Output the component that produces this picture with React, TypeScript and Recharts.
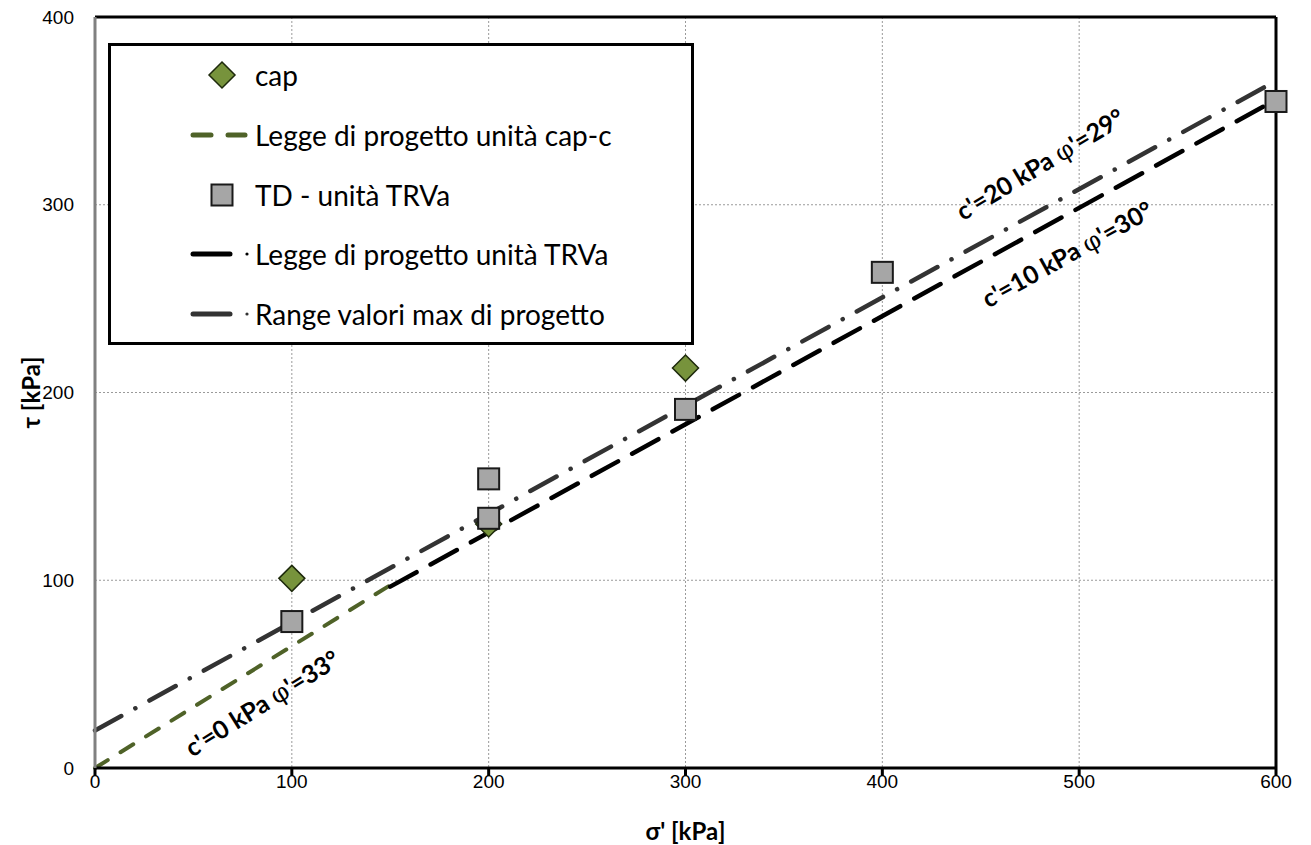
import React from "react";
import {
  ComposedChart,
  Line,
  Scatter,
  XAxis,
  YAxis,
  CartesianGrid,
  ReferenceLine,
  Label,
} from "recharts";

// measured points (sigma', tau) in kPa
const capPoints = [
  { x: 100, y: 101 },
  { x: 200, y: 130 },
  { x: 300, y: 213 },
];

const tdPoints = [
  { x: 100, y: 78 },
  { x: 200, y: 154 },
  { x: 200, y: 133 },
  { x: 300, y: 191 },
  { x: 400, y: 264 },
  { x: 600, y: 355 },
];

// design envelopes
const capLaw = [
  { x: 0, y: 0 },
  { x: 150, y: 97.4 },
];

const trvaLaw = [
  { x: 150, y: 96.6 },
  { x: 600, y: 356 },
];

const rangeMax = [
  { x: 0, y: 20 },
  { x: 600, y: 366 },
];

const xTicks = [0, 100, 200, 300, 400, 500, 600];
const yTicks = [0, 100, 200, 300, 400];

const W = 1311;
const H = 845;

const GREEN = "#77933C";
const GREEN_LINE = "#4F6228";

const textFont = "Lato, 'Open Sans', sans-serif";
const tickFont = "'Liberation Sans', Arial, sans-serif";

const Diamond = (props: any) => {
  const { cx, cy } = props;
  const r = 13;
  return (
    <polygon
      points={`${cx},${cy - r} ${cx + r},${cy} ${cx},${cy + r} ${cx - r},${cy}`}
      fill={GREEN}
      stroke="#1e2a0c"
      strokeWidth={1.5}
    />
  );
};

const Square = (props: any) => {
  const { cx, cy } = props;
  const s = 21;
  return (
    <rect
      x={cx - s / 2}
      y={cy - s / 2}
      width={s}
      height={s}
      fill="#A6A6A6"
      stroke="#1a1a1a"
      strokeWidth={2}
    />
  );
};

const XTick = (props: any) => {
  const { x, y, payload } = props;
  return (
    <text x={x} y={y + 10} textAnchor="middle" fontSize={19} fontFamily={tickFont} fill="#000">
      {payload.value}
    </text>
  );
};

const YTick = (props: any) => {
  const { x, y, payload } = props;
  return (
    <text x={x} y={y} dy="0.35em" textAnchor="end" fontSize={19} fontFamily={tickFont} fill="#000">
      {payload.value}
    </text>
  );
};

function LegendBox() {
  const rowY = [75, 135, 195, 254, 314];
  const text = (y: number, s: string) => (
    <div
      style={{
        position: "absolute",
        left: 255 - 111,
        top: y - 46 - 18,
        height: 36,
        lineHeight: "36px",
        fontSize: 28,
        fontFamily: textFont,
        color: "#000",
        whiteSpace: "nowrap",
      }}
    >
      {s}
    </div>
  );
  return (
    <div
      style={{
        position: "absolute",
        left: 108,
        top: 43,
        width: 586,
        height: 302,
        border: "3px solid #000",
        boxSizing: "border-box",
        background: "#fff",
      }}
    >
      <svg
        width={586}
        height={302}
        style={{ position: "absolute", left: -3, top: -3, overflow: "visible" }}
      >
        <g transform="translate(-108,-43)">
          <Diamond cx={222} cy={rowY[0]} />
          <line x1={193} x2={211} y1={rowY[1]} y2={rowY[1]} stroke={GREEN_LINE} strokeWidth={5} strokeLinecap="round" />
          <line x1={228} x2={245} y1={rowY[1]} y2={rowY[1]} stroke={GREEN_LINE} strokeWidth={5} strokeLinecap="round" />
          <Square cx={222} cy={rowY[2]} />
          <line x1={193} x2={230} y1={rowY[3]} y2={rowY[3]} stroke="#000" strokeWidth={5} strokeLinecap="round" />
          <circle cx={247} cy={rowY[3]} r={1.6} fill="#000" />
          <line x1={193} x2={230} y1={rowY[4]} y2={rowY[4]} stroke="#333" strokeWidth={5} strokeLinecap="round" />
          <circle cx={247} cy={rowY[4]} r={1.6} fill="#333" />
        </g>
      </svg>
      {text(rowY[0], "cap")}
      {text(rowY[1], "Legge di progetto unità cap-c")}
      {text(rowY[2], "TD - unità TRVa")}
      {text(rowY[3], "Legge di progetto unità TRVa")}
      {text(rowY[4], "Range valori max di progetto")}
    </div>
  );
}

function Note({ x, y, angle, c, phi }: { x: number; y: number; angle: number; c: string; phi: string }) {
  return (
    <div
      style={{
        position: "absolute",
        left: x,
        top: y,
        transform: `translate(-50%, -50%) rotate(${-angle}deg)`,
        fontFamily: textFont,
        fontWeight: 700,
        fontSize: 25,
        whiteSpace: "nowrap",
        color: "#000",
      }}
    >
      {c} kPa <span style={{ fontFamily: "'DejaVu Serif', serif", fontWeight: 400 }}>φ</span>'={phi}°
    </div>
  );
}

export default function App() {
  return (
    <div
      style={{
        position: "absolute",
        left: 0,
        top: 0,
        width: W,
        height: H,
        background: "#fff",
      }}
    >
      <ComposedChart
        width={W}
        height={H}
        margin={{ top: 17, right: 35, left: 0, bottom: 0 }}
      >
        <CartesianGrid stroke="#9a9a9a" strokeDasharray="2 2" strokeWidth={1} />
        <XAxis
          type="number"
          dataKey="x"
          domain={[0, 600]}
          ticks={xTicks}
          height={77}
          axisLine={{ stroke: "#000", strokeWidth: 3 }}
          tickLine={{ stroke: "#000", strokeWidth: 3 }}
          tickSize={8}
          tick={<XTick />}
        >
          <Label
            content={({ viewBox }: any) => (
              <text
                x={viewBox.x + viewBox.width / 2}
                y={viewBox.y + 62}
                textAnchor="middle"
                dominantBaseline="central"
                fontFamily={textFont}
                fontWeight={700}
                fontSize={24}
                fill="#000"
              >
                σ' [kPa]
              </text>
            )}
          />
        </XAxis>
        <YAxis
          type="number"
          dataKey="y"
          domain={[0, 400]}
          ticks={yTicks}
          width={95}
          axisLine={{ stroke: "#808080", strokeWidth: 3 }}
          tickLine={false}
          tickMargin={15}
          tick={<YTick />}
        >
          <Label
            content={({ viewBox }: any) => {
              const cx = 30;
              const cy = viewBox.y + viewBox.height / 2;
              return (
                <text
                  x={cx}
                  y={cy}
                  transform={`rotate(-90 ${cx} ${cy})`}
                  textAnchor="middle"
                  dominantBaseline="central"
                  fontFamily={textFont}
                  fontWeight={700}
                  fontSize={24}
                  fill="#000"
                >
                  τ [kPa]
                </text>
              );
            }}
          />
        </YAxis>
        <ReferenceLine y={400} stroke="#000" strokeWidth={3} />
        <ReferenceLine x={600} stroke="#000" strokeWidth={3} />
        <Line
          data={rangeMax}
          dataKey="y"
          stroke="#333"
          strokeWidth={4.5}
          strokeDasharray="30 16 0.1 16"
          strokeLinecap="round"
          dot={false}
          activeDot={false}
          isAnimationActive={false}
        />
        <Line
          data={capLaw}
          dataKey="y"
          stroke={GREEN_LINE}
          strokeWidth={4}
          strokeDasharray="15 15"
          strokeLinecap="round"
          dot={false}
          activeDot={false}
          isAnimationActive={false}
        />
        <Line
          data={trvaLaw}
          dataKey="y"
          stroke="#000"
          strokeWidth={4.5}
          strokeDasharray="30 16"
          strokeLinecap="round"
          dot={false}
          activeDot={false}
          isAnimationActive={false}
        />
        <Scatter data={capPoints} dataKey="y" shape={<Diamond />} isAnimationActive={false} />
        <Scatter data={tdPoints} dataKey="y" shape={<Square />} isAnimationActive={false} />
      </ComposedChart>
      <LegendBox />
      <Note x={262} y={703} angle={32} c="c'=0" phi="33" />
      <Note x={1040} y={164} angle={31} c="c'=20" phi="29" />
      <Note x={1067} y={254} angle={29} c="c'=10" phi="30" />
    </div>
  );
}
